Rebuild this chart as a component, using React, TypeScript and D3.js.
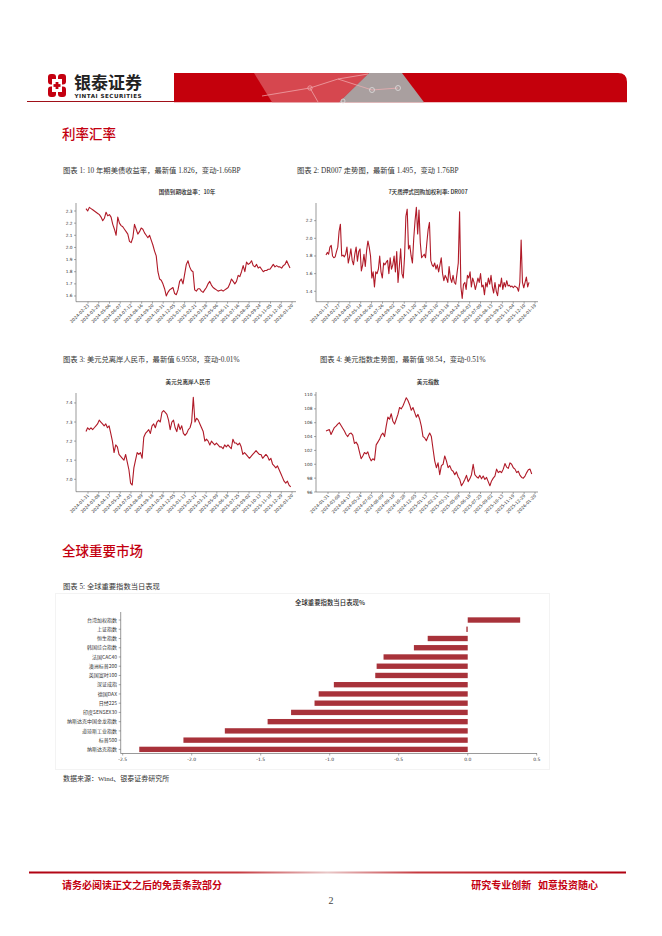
import React from 'react';
import * as d3 from 'd3';

// ---------- DATA ----------
const CN10Y_VALUES = [2.32,2.30,2.33,2.32,2.31,2.30,2.29,2.28,2.27,2.25,2.22,2.24,2.29,2.26,2.27,2.25,2.19,2.15,2.10,2.25,2.20,2.18,2.17,2.15,2.13,2.11,2.05,2.04,2.08,2.19,2.15,2.11,2.13,2.16,2.15,2.12,2.10,2.08,2.10,2.06,2.02,1.97,1.93,1.80,1.74,1.73,1.70,1.66,1.60,1.63,1.65,1.66,1.67,1.62,1.61,1.65,1.72,1.74,1.70,1.78,1.86,1.89,1.84,1.81,1.80,1.65,1.64,1.66,1.66,1.64,1.63,1.65,1.67,1.70,1.72,1.69,1.67,1.66,1.65,1.64,1.645,1.65,1.64,1.65,1.66,1.67,1.70,1.74,1.72,1.70,1.72,1.77,1.76,1.80,1.85,1.80,1.88,1.86,1.87,1.89,1.85,1.84,1.86,1.83,1.84,1.82,1.80,1.81,1.81,1.82,1.82,1.84,1.86,1.84,1.85,1.84,1.84,1.83,1.85,1.86,1.89,1.86,1.83];
const CN10Y_TICKS = ['2024-02-23','2024-03-29','2024-05-06','2024-06-07','2024-07-12','2024-08-16','2024-09-20','2024-10-31','2024-12-05','2025-01-10','2025-02-21','2025-03-28','2025-05-06','2025-06-11','2025-07-16','2025-08-20','2025-09-24','2025-11-05','2025-12-10','2026-01-20'];
const CN10Y_YTICKS = [1.6,1.7,1.8,1.9,2.0,2.1,2.2,2.3];

const DR007_VALUES = [1.81,1.84,1.82,1.90,1.92,1.80,1.78,1.79,1.85,1.90,2.08,2.16,1.80,1.81,1.79,1.82,1.90,1.72,1.79,1.88,1.75,1.70,1.82,1.90,1.74,1.85,1.88,1.63,1.70,1.82,1.68,1.86,1.97,1.90,1.80,1.55,1.62,1.45,1.62,1.60,1.65,1.80,1.62,1.55,1.72,1.70,1.73,1.75,1.60,1.78,1.65,1.70,1.80,1.62,1.85,1.50,1.68,1.88,1.60,1.55,1.80,2.25,2.33,1.88,1.92,1.80,1.72,2.00,2.20,2.35,2.05,2.32,1.95,1.78,1.80,1.82,1.78,1.95,2.10,2.18,1.75,1.70,1.68,1.72,1.65,1.70,1.62,1.70,1.78,1.60,1.52,1.58,1.55,1.50,1.68,1.55,1.50,1.58,1.50,1.48,1.60,1.72,2.30,1.45,1.32,1.48,1.50,1.42,1.58,1.55,1.62,1.45,1.55,1.50,1.42,1.48,1.55,1.50,1.60,1.45,1.47,1.36,1.50,1.45,1.55,1.48,1.58,1.45,1.38,1.50,1.40,1.35,1.48,1.45,1.55,1.42,1.50,1.45,1.52,1.46,1.47,1.45,1.46,1.44,1.46,1.45,1.44,1.40,1.50,1.98,1.50,1.44,1.50,1.56,1.45,1.50];
const DR007_TICKS = ['2024-01-17','2024-02-27','2024-04-03','2024-05-14','2024-06-20','2024-07-26','2024-09-02','2024-10-15','2024-11-20','2024-12-26','2025-02-10','2025-03-18','2025-04-24','2025-06-03','2025-07-09','2025-08-13','2025-09-23','2025-11-04','2025-12-10','2026-01-19'];
const DR007_YTICKS = [1.4,1.6,1.8,2.0,2.2];

const USDCNH_VALUES = [7.25,7.27,7.26,7.27,7.26,7.27,7.28,7.29,7.31,7.30,7.29,7.28,7.29,7.27,7.28,7.24,7.20,7.14,7.18,7.17,7.13,7.12,7.11,7.10,7.13,7.09,7.05,6.98,6.97,7.06,7.10,7.14,7.13,7.14,7.11,7.22,7.24,7.25,7.26,7.24,7.28,7.29,7.27,7.30,7.31,7.30,7.35,7.36,7.35,7.34,7.31,7.26,7.30,7.31,7.27,7.25,7.29,7.26,7.28,7.24,7.23,7.24,7.26,7.27,7.30,7.43,7.30,7.32,7.31,7.29,7.27,7.25,7.20,7.21,7.20,7.18,7.20,7.19,7.18,7.19,7.18,7.17,7.17,7.16,7.18,7.17,7.18,7.17,7.16,7.21,7.19,7.19,7.18,7.19,7.17,7.13,7.14,7.13,7.12,7.11,7.12,7.13,7.14,7.15,7.14,7.13,7.13,7.11,7.12,7.13,7.12,7.10,7.11,7.08,7.07,7.06,7.07,7.05,7.03,7.01,6.99,6.98,6.99,6.97,6.96];
const USDCNH_TICKS = ['2024-01-31','2024-03-08','2024-04-17','2024-05-24','2024-07-03','2024-08-09','2024-09-18','2024-10-28','2024-12-05','2025-01-13','2025-02-21','2025-03-31','2025-05-09','2025-06-18','2025-07-25','2025-09-02','2025-10-13','2025-11-19','2025-12-29','2026-01-20'];
const USDCNH_YTICKS = [7.0,7.1,7.2,7.3,7.4];

const DXY_VALUES = [104.8,104.9,105.0,104.3,104.8,105.3,105.5,105.8,106.0,105.6,105.2,104.8,104.3,104.0,104.4,104.5,104.2,103.0,103.2,102.8,101.8,100.8,101.2,101.7,101.5,101.8,101.0,100.5,100.8,100.6,102.8,103.2,103.6,104.2,104.5,104.0,105.5,106.8,106.5,107.3,106.2,105.8,106.5,107.2,108.2,108.0,108.4,109.0,109.6,109.2,108.6,107.8,108.2,107.5,106.8,107.2,106.5,105.5,104.0,103.8,103.4,104.0,104.5,104.0,102.2,100.5,99.5,100.2,98.5,99.8,100.0,101.2,100.5,99.5,99.8,99.2,99.0,98.5,98.9,98.2,97.8,96.9,97.3,97.8,98.4,97.5,97.9,98.5,100.0,98.5,98.2,98.0,98.4,97.9,98.3,97.8,98.1,97.5,96.9,97.6,98.0,98.3,99.3,98.8,99.0,98.8,99.3,100.1,99.6,99.4,100.2,100.0,99.5,99.3,98.8,99.0,98.4,98.1,98.0,98.3,98.8,99.2,99.3,98.6];
const DXY_TICKS = ['2024-01-31','2024-03-08','2024-04-17','2024-05-24','2024-07-03','2024-08-09','2024-09-18','2024-10-28','2024-12-05','2025-01-13','2025-02-21','2025-03-31','2025-05-09','2025-06-18','2025-07-25','2025-09-02','2025-10-13','2025-11-19','2025-12-29','2026-01-20'];
const DXY_YTICKS = [96,98,100,102,104,106,108,110];

const BAR_CATEGORIES = ['台湾加权指数','上证指数','恒生指数','韩国综合指数','法国CAC40','澳洲标普200','英国富时100','深证成指','德国DAX','日经225','印度SENSEX30','纳斯达克中国金龙指数','道琼斯工业指数','标普500','纳斯达克指数'];
const BAR_VALUES = [0.38,-0.01,-0.29,-0.39,-0.61,-0.66,-0.67,-0.97,-1.08,-1.11,-1.28,-1.45,-1.76,-2.06,-2.38];
const BAR_XTICKS = [-2.5,-2.0,-1.5,-1.0,-0.5,0.0,0.5];

// ---------- STYLE ----------
const RED = '#c40010';
const LINE_RED = '#b01a28';
const BAR_RED = '#a8323a';
const AXIS = '#555';
const SANS = '"Noto Sans CJK SC", "Noto Sans", sans-serif';
const TICKF = '"DejaVu Sans", "Noto Sans CJK SC", sans-serif';
const SERIF = '"Liberation Serif", "DejaVu Serif", "Noto Sans CJK SC", serif';

type LCProps = {
  values: number[]; ticks: string[]; yTicks: number[]; yDomain: [number, number];
  left: number; right: number; top: number; bottom: number;
  dataX0: number; dataX1: number; tickX0: number; tickX1: number;
  title: string; titleX: number; titleY: number; fmt: (v: number) => string;
};

function LineChart(p: LCProps) {
  const x = d3.scaleLinear().domain([0, p.values.length - 1]).range([p.dataX0, p.dataX1]);
  const xt = d3.scalePoint<string>().domain(p.ticks).range([p.tickX0, p.tickX1]);
  const y = d3.scaleLinear().domain(p.yDomain).range([p.bottom, p.top]);
  const line = d3.line<number>().x((_, i) => x(i)).y((d) => y(d));
  return (
    <g>
      <text x={p.titleX} y={p.titleY} textAnchor="middle" fontSize={5.6} fontFamily={SANS} fontWeight={500} fill="#222">{p.title}</text>
      <line x1={p.left} x2={p.left} y1={p.top} y2={p.bottom} stroke={AXIS} strokeWidth={0.6} />
      <line x1={p.left} x2={p.right} y1={p.bottom} y2={p.bottom} stroke={AXIS} strokeWidth={0.6} />
      {p.yTicks.map((t) => (
        <g key={t}>
          <line x1={p.left - 2} x2={p.left} y1={y(t)} y2={y(t)} stroke={AXIS} strokeWidth={0.5} />
          <text x={p.left - 3.5} y={y(t)} dy="0.35em" textAnchor="end" fontSize={4.3} fontFamily={TICKF} fill="#333">{p.fmt(t)}</text>
        </g>
      ))}
      {p.ticks.map((t) => {
        const tx = xt(t) as number;
        return (
          <g key={t}>
            <line x1={tx} x2={tx} y1={p.bottom} y2={p.bottom + 2} stroke={AXIS} strokeWidth={0.5} />
            <text transform={`translate(${tx + 1.5},${p.bottom + 4}) rotate(-45)`} textAnchor="end" fontSize={4.3} fontFamily={TICKF} fill="#333">{t}</text>
          </g>
        );
      })}
      <path d={line(p.values) || ''} fill="none" stroke={LINE_RED} strokeWidth={1.1} strokeLinejoin="round" />
    </g>
  );
}

function BarChart() {
  const x = d3.scaleLinear().domain([-2.5145, 0.502]).range([120.7, 537]);
  const y = d3.scaleBand<string>().domain(BAR_CATEGORIES).range([615.4, 754]).paddingInner(0.42).paddingOuter(0.21);
  const axisY = 753.5;
  return (
    <g>
      <rect x={55.5} y={593.5} width={494} height={176} fill="none" stroke="#f3f3f3" strokeWidth={1} />
      <text x={330} y={605} textAnchor="middle" fontSize={6.4} fontFamily={SANS} fontWeight={500} fill="#222">全球重要指数当日表现%</text>
      {BAR_CATEGORIES.map((c, i) => {
        const v = BAR_VALUES[i];
        const x0 = x(Math.min(0, v));
        const w = Math.max(0.6, Math.abs(x(v) - x(0)));
        return <rect key={c} x={x0} y={y(c) as number} width={w} height={y.bandwidth()} fill={BAR_RED} />;
      })}
      <line x1={120.7} x2={120.7} y1={612} y2={axisY} stroke={AXIS} strokeWidth={0.6} />
      <line x1={120.7} x2={537} y1={axisY} y2={axisY} stroke={AXIS} strokeWidth={0.6} />
      {BAR_CATEGORIES.map((c) => {
        const cy = (y(c) as number) + y.bandwidth() / 2;
        return (
          <g key={c}>
            <line x1={118.7} x2={120.7} y1={cy} y2={cy} stroke={AXIS} strokeWidth={0.5} />
            <text x={117} y={cy} dy="0.35em" textAnchor="end" fontSize={5} fontFamily={SANS} fill="#333">{c}</text>
          </g>
        );
      })}
      {BAR_XTICKS.map((t) => (
        <g key={t}>
          <line x1={x(t)} x2={x(t)} y1={axisY} y2={axisY + 2} stroke={AXIS} strokeWidth={0.5} />
          <text x={x(t)} y={axisY + 7.5} textAnchor="middle" fontSize={4.5} fontFamily={TICKF} fill="#333">{t.toFixed(1)}</text>
        </g>
      ))}
    </g>
  );
}

function Header() {
  return (
    <g>
      {/* logo icon */}
      <g transform="translate(48,74)">
        <rect x={0} y={0} width={8} height={10.5} rx={3} fill={RED} />
        <rect x={10} y={0} width={8} height={10.5} rx={3} fill={RED} />
        <rect x={0} y={12.5} width={8} height={10.5} rx={3} fill={RED} />
        <rect x={10} y={12.5} width={8} height={10.5} rx={3} fill={RED} />
        <rect x={4} y={5} width={10} height={13} fill="#fff" />
        <rect x={7.6} y={8} width={2.8} height={7} fill={RED} />
        <rect x={5.5} y={10.1} width={7} height={2.8} fill={RED} />
      </g>
      <text x={74} y={89} fontSize={17} fontWeight={700} fontFamily={SANS} fill="#222">银泰证券</text>
      <text x={74.5} y={97.5} fontSize={5.6} fontWeight={700} fontFamily={TICKF} fill="#222" textLength={67}>YINTAI SECURITIES</text>
      <line x1={27} x2={175} y1={101.5} y2={101.5} stroke="#a01018" strokeWidth={1.2} />
      {/* banner */}
      <path d="M174,73 L618,73 Q627,73 627,82 L627,102.3 L174,102.3 Z" fill="#c4000c" />
      <polygon points="254,73 369,73 339,102.3 272,102.3" fill="#d9545c" opacity={0.85} />
      <polygon points="369,73 402,73 424,102.3 339,102.3" fill="#a8a8a8" opacity={0.95} />
      <g stroke="#f2b0b4" strokeWidth={0.8} fill="none" opacity={0.9}>
        <polyline points="262,96 310,88 338,79 368,74" />
        <polyline points="310,88 318,102" />
        <polyline points="338,79 372,90 398,88" />
        <circle cx={310} cy={88} r={2.2} />
        <circle cx={372} cy={90} r={2.5} stroke="#e6e6e6" />
        <circle cx={398} cy={88} r={2.5} stroke="#e6e6e6" />
        <circle cx={343} cy={101} r={2} stroke="#e6e6e6" />
      </g>
    </g>
  );
}

export default function App() {
  return (
    <svg width={662} height={936} style={{ position: 'absolute', left: 0, top: 0, background: '#fff' }}>
      <rect x={0} y={0} width={662} height={936} fill="#fff" />
      <Header />
      <text x={62} y={138.5} fontSize={13.5} fontFamily={SANS} fontWeight={500} fill={RED}>利率汇率</text>

      <text x={63} y={172.5} fontSize={7.3} fontFamily={SERIF} fill="#333">图表 1: 10 年期美债收益率，最新值 1.826，变动-1.66BP</text>
      <text x={297} y={172.5} fontSize={7.3} fontFamily={SERIF} fill="#333">图表 2: DR007 走势图，最新值 1.495，变动 1.76BP</text>

      <LineChart values={CN10Y_VALUES} ticks={CN10Y_TICKS} yTicks={CN10Y_YTICKS} yDomain={[1.553, 2.366]}
        left={76} right={296} top={203} bottom={301.7} dataX0={86} dataX1={290} tickX0={88} tickX1={292}
        title="国债到期收益率：10年" titleX={187} titleY={194} fmt={(v) => v.toFixed(1)} />
      <LineChart values={DR007_VALUES} ticks={DR007_TICKS} yTicks={DR007_YTICKS} yDomain={[1.282, 2.40]}
        left={316} right={538} top={203} bottom={301.7} dataX0={326} dataX1={529} tickX0={328} tickX1={535}
        title="7天质押式回购加权利率: DR007" titleX={428} titleY={194} fmt={(v) => v.toFixed(1)} />

      <text x={63} y={361.5} fontSize={7.3} fontFamily={SERIF} fill="#333">图表 3: 美元兑离岸人民币，最新值 6.9558，变动-0.01%</text>
      <text x={320} y={361.5} fontSize={7.3} fontFamily={SERIF} fill="#333">图表 4: 美元指数走势图，最新值 98.54，变动-0.51%</text>

      <LineChart values={USDCNH_VALUES} ticks={USDCNH_TICKS} yTicks={USDCNH_YTICKS} yDomain={[6.935, 7.452]}
        left={76} right={296} top={393} bottom={491.7} dataX0={86} dataX1={290.7} tickX0={88} tickX1={292}
        title="美元兑离岸人民币" titleX={188} titleY={384} fmt={(v) => v.toFixed(1)} />
      <LineChart values={DXY_VALUES} ticks={DXY_TICKS} yTicks={DXY_YTICKS} yDomain={[96, 110.43]}
        left={316} right={538} top={392} bottom={492} dataX0={326} dataX1={531.7} tickX0={328} tickX1={535}
        title="美元指数" titleX={428} titleY={384} fmt={(v) => String(v)} />

      <text x={62} y={556} fontSize={13.5} fontFamily={SANS} fontWeight={500} fill={RED}>全球重要市场</text>
      <text x={63} y={588.5} fontSize={7.3} fontFamily={SERIF} fill="#333">图表 5: 全球重要指数当日表现</text>
      <BarChart />
      <text x={63} y={780.5} fontSize={7} fontFamily={SERIF} fill="#333">数据来源：Wind、银泰证券研究所</text>

      {/* footer */}
      <defs>
        <linearGradient id="footgrad" x1="0" x2="1" y1="0" y2="0">
          <stop offset="0" stopColor="#b00010" />
          <stop offset="0.35" stopColor="#c63a40" />
          <stop offset="0.5" stopColor="#e9c8c8" />
          <stop offset="0.65" stopColor="#c63a40" />
          <stop offset="1" stopColor="#b00010" />
        </linearGradient>
      </defs>
      <rect x={29} y={871.5} width={597} height={2} fill="url(#footgrad)" />
      <text x={62} y={889} fontSize={10} fontWeight={700} fontFamily={SANS} fill={RED}>请务必阅读正文之后的免责条款部分</text>
      <text x={598} y={889} textAnchor="end" fontSize={10} fontWeight={700} fontFamily={SANS} fill={RED} xmlSpace="preserve">研究专业创新   如意投资随心</text>
      <text x={331} y={904} textAnchor="middle" fontSize={10} fontFamily={SERIF} fill="#444">2</text>
    </svg>
  );
}
